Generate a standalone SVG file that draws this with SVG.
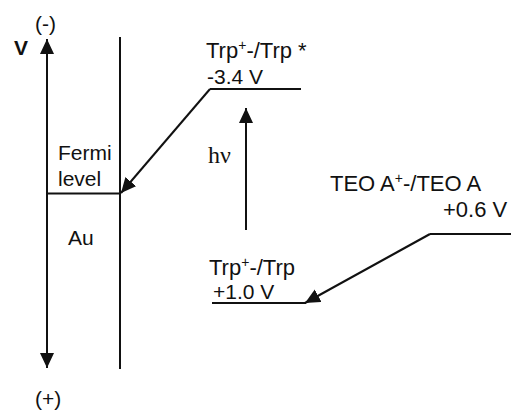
<svg xmlns="http://www.w3.org/2000/svg" width="511" height="411" viewBox="0 0 511 411">
<style>
.t{font-family:"Liberation Sans",Arial,sans-serif;font-size:21px;fill:#111}
.b{font-size:22px}
.s{font-family:"Liberation Serif","Times New Roman",serif;font-size:24px;fill:#111}
.ln{stroke:#111;stroke-width:2;fill:none}
.sup{font-size:14px}
</style>
<defs>
<marker id="ah" markerUnits="userSpaceOnUse" markerWidth="16" markerHeight="15" refX="15" refY="7" orient="auto">
<path d="M0,0 L15,7 L0,14 z" fill="#111"/>
</marker>
</defs>
<rect width="511" height="411" fill="#fff"/>
<g id="axis">
<line class="ln" x1="47" y1="200" x2="47" y2="39" marker-end="url(#ah)"/>
<line class="ln" x1="47" y1="200" x2="47" y2="368" marker-end="url(#ah)"/>
<text class="t" x="35" y="31" font-size="21">(-)</text>
<text class="t" x="14" y="55" font-size="18" font-weight="bold">V</text>
<text class="t" x="35" y="406" font-size="21">(+)</text>
</g>
<g id="au">
<line class="ln" x1="120" y1="37" x2="120" y2="369"/>
<line class="ln" x1="47" y1="193.5" x2="120" y2="193.5"/>
<text class="t" x="58" y="160">Fermi</text>
<text class="t" x="58" y="186">level</text>
<text class="t" x="68" y="245" font-size="22">Au</text>
</g>
<g id="trp-excited">
<line class="ln" x1="210" y1="89" x2="301" y2="89"/>
<text class="t b" x="206" y="58">Trp<tspan class="sup" dy="-8">+</tspan><tspan dy="8">-/Trp *</tspan></text>
<text class="t" x="207" y="84">-3.4 V</text>
</g>
<g id="trp-ground">
<line class="ln" x1="212" y1="303" x2="306" y2="303"/>
<text class="t b" x="209" y="275">Trp<tspan class="sup" dy="-8">+</tspan><tspan dy="8">-/Trp</tspan></text>
<text class="t" x="213" y="299">+1.0 V</text>
</g>
<g id="teoa">
<line class="ln" x1="430" y1="234" x2="511" y2="234"/>
<text class="t b" x="330" y="191">TEO A<tspan class="sup" dy="-8">+</tspan><tspan dy="8">-/TEO A</tspan></text>
<text class="t b" x="443" y="217">+0.6 V</text>
</g>
<g id="connectors">
<line class="ln" x1="210" y1="89" x2="121" y2="193" marker-end="url(#ah)"/>
<line class="ln" x1="246" y1="230" x2="246" y2="108" marker-end="url(#ah)"/>
<line class="ln" x1="430" y1="234" x2="305" y2="303" marker-end="url(#ah)"/>
<text class="s" x="208" y="163">hν</text>
</g>
</svg>
